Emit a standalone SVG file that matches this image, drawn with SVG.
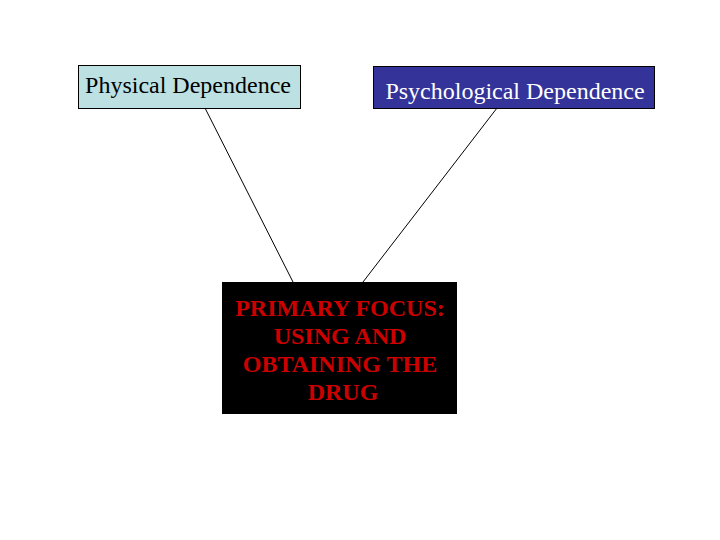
<svg xmlns="http://www.w3.org/2000/svg" width="720" height="540" viewBox="0 0 720 540">
<style>
text{font-family:"Liberation Serif","Times New Roman",serif;font-size:24px}
.edge{stroke:#000;stroke-width:1;fill:none}
</style>
<rect width="720" height="540" fill="#fff"/>
<g id="connectors">
<line class="edge" x1="205" y1="108" x2="293" y2="282"/>
<line class="edge" x1="497" y1="108" x2="363" y2="282"/>
</g>
<g id="physical">
<rect x="78.5" y="65.5" width="222" height="43" fill="#bde0e3" stroke="#000"/>
<text x="188" y="93" text-anchor="middle" fill="#000">Physical Dependence</text>
</g>
<g id="psychological">
<rect x="373.5" y="66.5" width="281" height="42" fill="#333399" stroke="#000"/>
<text x="515" y="99" text-anchor="middle" fill="#fff">Psychological Dependence</text>
</g>
<g id="focus">
<rect x="222" y="282" width="235" height="132" fill="#000"/>
<text text-anchor="middle" fill="#cc0000" font-weight="bold" x="343">
<tspan x="343" y="316">PRIMARY FOCUS:</tspan>
<tspan x="343" y="344">USING AND</tspan>
<tspan x="343" y="372">OBTAINING THE</tspan>
<tspan x="343" y="400">DRUG</tspan>
</text>
</g>
</svg>
